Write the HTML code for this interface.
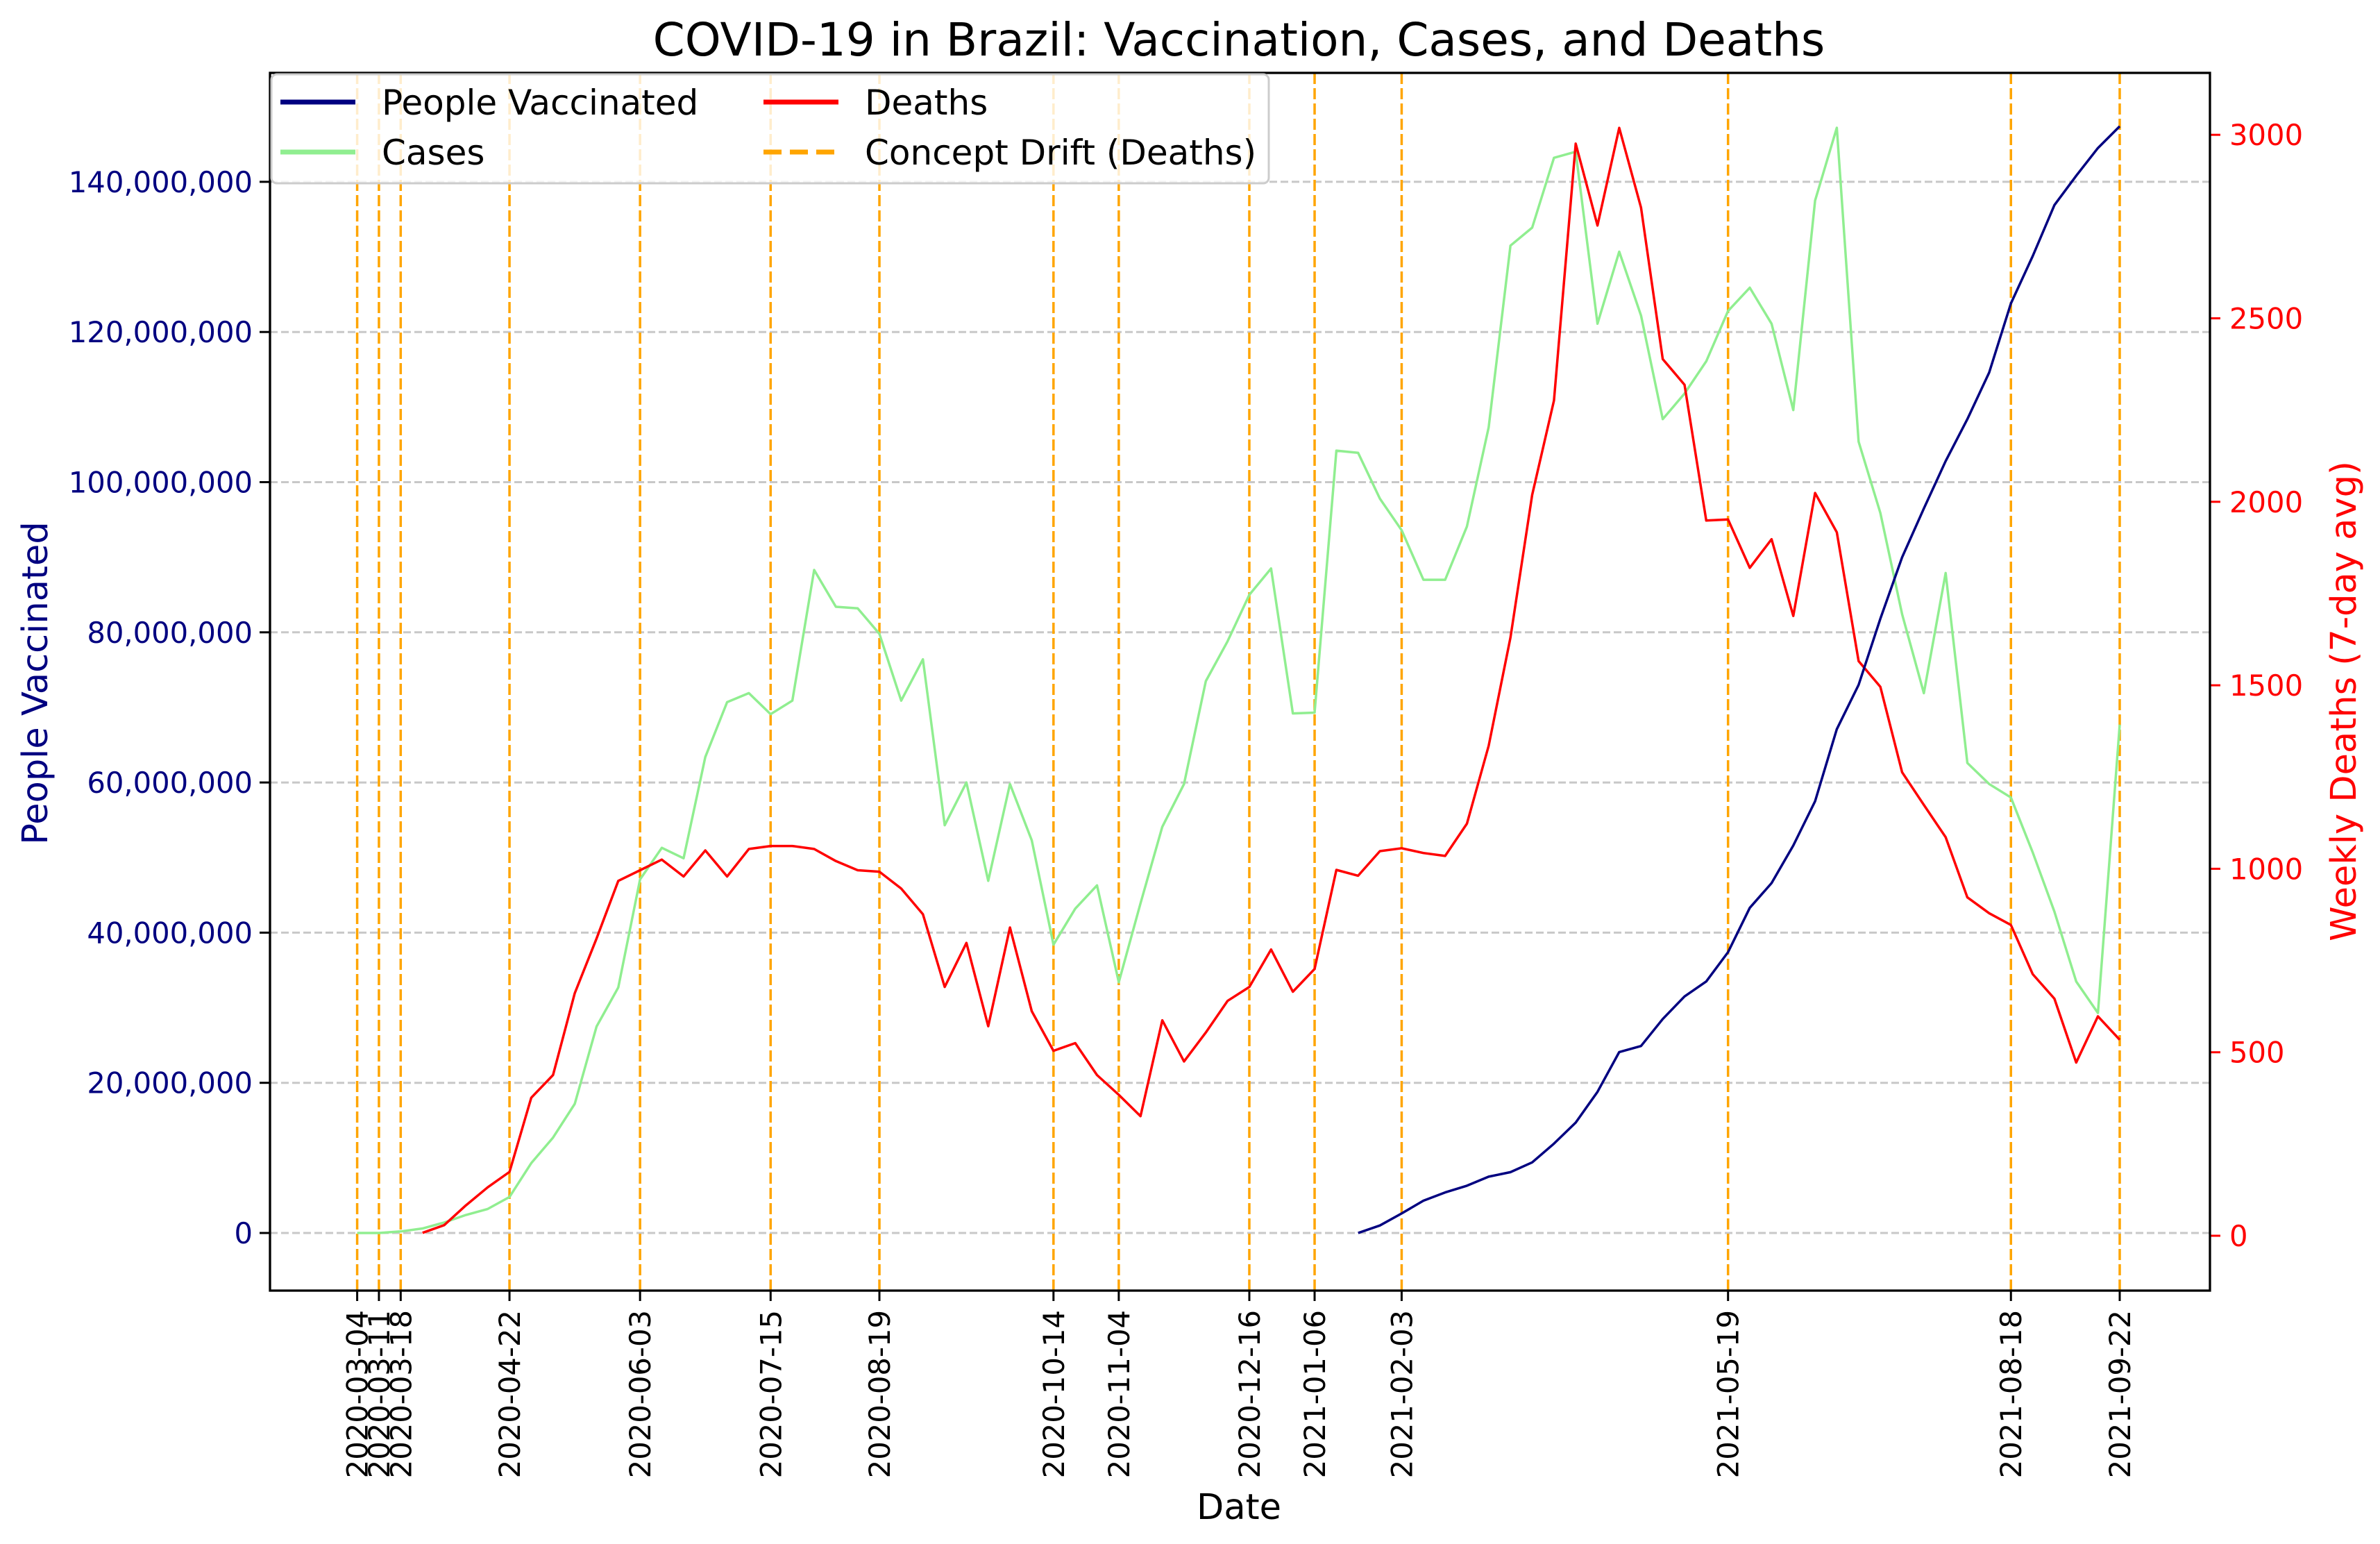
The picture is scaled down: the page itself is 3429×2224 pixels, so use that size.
<!DOCTYPE html>
<html><head><meta charset="utf-8"><style>
html,body{margin:0;padding:0;background:#fff;}
svg{display:block;font-family:"DejaVu Sans","Liberation Sans",sans-serif;}
</style></head><body>
<svg id="chart" width="3429" height="2224" viewBox="0 0 3429 2224" xmlns="http://www.w3.org/2000/svg">
<rect width="3429" height="2224" fill="#fff"/>
<text x="1785" y="80" font-size="66" text-anchor="middle">COVID-19 in Brazil: Vaccination, Cases, and Deaths</text>
<g id="grid"></g>
<g id="vlines"></g>
<g id="series"></g>
<g id="axes"></g>
<text x="1785" y="2188" font-size="51" text-anchor="middle">Date</text>
<text transform="translate(68,984) rotate(-90)" font-size="51" fill="#000080" text-anchor="middle">People Vaccinated</text>
<text transform="translate(3394,1010) rotate(-90)" font-size="51" fill="#ff0000" text-anchor="middle">Weekly Deaths (7-day avg)</text>
<g id="legend">
<rect x="391" y="107" width="1437" height="157" rx="8" fill="#fff" fill-opacity="0.8" stroke="#ccc" stroke-width="3"/>
<line x1="404" y1="147" x2="512" y2="147" stroke="#000080" stroke-width="7"/>
<text x="550" y="165" font-size="50">People Vaccinated</text>
<line x1="404" y1="219" x2="512" y2="219" stroke="#90ee90" stroke-width="7"/>
<text x="550" y="237" font-size="50">Cases</text>
<line x1="1100" y1="147" x2="1208" y2="147" stroke="#ff0000" stroke-width="7"/>
<text x="1246" y="165" font-size="50">Deaths</text>
<line x1="1100" y1="219" x2="1208" y2="219" stroke="#ffa500" stroke-width="7" stroke-dasharray="26,12"/>
<text x="1246" y="237" font-size="50">Concept Drift (Deaths)</text>
</g>
</svg>
<script>
const weekLabels = ["2020-03-04","2020-03-11","2020-03-18","2020-03-25","2020-04-01","2020-04-08","2020-04-15","2020-04-22","2020-04-29","2020-05-06","2020-05-13","2020-05-20","2020-05-27","2020-06-03","2020-06-10","2020-06-17","2020-06-24","2020-07-01","2020-07-08","2020-07-15","2020-07-22","2020-07-29","2020-08-05","2020-08-12","2020-08-19","2020-08-26","2020-09-02","2020-09-09","2020-09-16","2020-09-23","2020-09-30","2020-10-07","2020-10-14","2020-10-21","2020-10-28","2020-11-04","2020-11-11","2020-11-18","2020-11-25","2020-12-02","2020-12-09","2020-12-16","2020-12-23","2020-12-30","2021-01-06","2021-01-13","2021-01-20","2021-01-27","2021-02-03","2021-02-10","2021-02-17","2021-02-24","2021-03-03","2021-03-10","2021-03-17","2021-03-24","2021-03-31","2021-04-07","2021-04-14","2021-04-21","2021-04-28","2021-05-05","2021-05-12","2021-05-19","2021-05-26","2021-06-02","2021-06-09","2021-06-16","2021-06-23","2021-06-30","2021-07-07","2021-07-14","2021-07-21","2021-07-28","2021-08-04","2021-08-11","2021-08-18","2021-08-25","2021-09-01","2021-09-08","2021-09-15","2021-09-22"];
// millions
const casesM = [0,0,0.2,0.6,1.4,2.4,3.2,4.8,9.3,12.7,17.2,27.5,32.7,47.1,51.3,49.9,63.4,70.7,71.9,69.1,70.9,88.3,83.4,83.2,79.8,70.9,76.4,54.3,60.0,46.9,59.8,52.3,38.4,43.2,46.3,33.4,43.9,54.1,59.8,73.5,78.8,85.0,88.5,69.2,69.3,104.2,103.9,97.8,93.6,87.0,87.0,94.1,107.3,131.5,133.9,143.2,144.0,121.1,130.7,122.2,108.4,111.8,116.1,122.8,125.9,121.1,109.6,137.5,147.2,105.4,95.9,82.4,71.9,87.9,62.6,59.8,58.0,50.7,42.8,33.5,29.3,67.7];
const deaths = [null,null,null,8,29,83,132,174,376,438,661,810,967,996,1025,979,1050,979,1054,1062,1062,1054,1021,996,992,946,876,678,798,571,840,612,504,525,438,384,326,587,475,554,640,678,780,665,727,997,981,1048,1056,1043,1035,1123,1335,1630,2019,2276,2976,2753,3019,2802,2389,2319,1949,1952,1820,1898,1689,2024,1917,1566,1496,1263,1174,1086,922,879,847,713,646,472,598,534];
const vaccinatedM = [null,null,null,null,null,null,null,null,null,null,null,null,null,null,null,null,null,null,null,null,null,null,null,null,null,null,null,null,null,null,null,null,null,null,null,null,null,null,null,null,null,null,null,null,null,null,0,1.0,2.6,4.3,5.4,6.3,7.5,8.1,9.4,11.9,14.7,18.8,24.1,24.9,28.5,31.5,33.5,37.4,43.3,46.6,51.6,57.5,67.1,73.0,81.8,90.0,96.5,102.8,108.4,114.6,123.8,130.1,136.9,140.8,144.5,147.4];
const driftDates = ["2020-03-04","2020-03-11","2020-03-18","2020-04-22","2020-06-03","2020-07-15","2020-08-19","2020-10-14","2020-11-04","2020-12-16","2021-01-06","2021-02-03","2021-05-19","2021-08-18","2021-09-22"];
const leftTicks = [0,20,40,60,80,100,120,140];
const leftTickLabels = ["0","20,000,000","40,000,000","60,000,000","80,000,000","100,000,000","120,000,000","140,000,000"];
const rightTicks = [0,500,1000,1500,2000,2500,3000];

const NS="http://www.w3.org/2000/svg";
const PL=389, PR=3184, PT=105, PB=1859;
const nW = weekLabels.length-1;
const X0=514.6, X1=3054;
function xScale(i){return X0+(X1-X0)*i/nW;}
function yLeft(m){return 1776 - m*10.815;}
function yRight(d){return 1780 - d*0.5286;}
function mk(tag,attrs,parent){const e=document.createElementNS(NS,tag);for(const k in attrs)e.setAttribute(k,attrs[k]);parent.appendChild(e);return e;}
const grid=document.getElementById('grid'), vl=document.getElementById('vlines'), ser=document.getElementById('series'), ax=document.getElementById('axes');

leftTicks.forEach((t,k)=>{
  const y=yLeft(t);
  const g=mk('line',{x1:PL,x2:PR,y1:y,y2:y,stroke:'#b0b0b0','stroke-opacity':'0.7','stroke-width':3,'stroke-dasharray':'11,5'},grid);
  
  
  const tk=mk('line',{x1:PL-15,x2:PL,y1:y,y2:y,stroke:'#000','stroke-width':3},ax);
  
  
  const tx=mk('text',{x:PL-25,y:y+15,'font-size':41.7,fill:'#000080','text-anchor':'end'},ax);
  tx.textContent=leftTickLabels[k];
  
  
});
rightTicks.forEach(t=>{
  const y=yRight(t);
  const tk=mk('line',{x1:PR,x2:PR+15,y1:y,y2:y,stroke:'#ff0000','stroke-width':3},ax);
  
  
  const tx=mk('text',{x:PR+28,y:y+15,'font-size':41.7,fill:'#ff0000'},ax);
  tx.textContent=String(t);
  
  
});
driftDates.forEach(d=>{
  const i=weekLabels.indexOf(d); const x=xScale(i);
  const l=mk('line',{x1:x,x2:x,y1:PT,y2:PB,stroke:'#ffa500','stroke-width':3.5,'stroke-dasharray':'16,6'},vl);
  
  
  const tk=mk('line',{x1:x,x2:x,y1:PB,y2:PB+15,stroke:'#000','stroke-width':3},ax);
  
  
  const tx=mk('text',{transform:'translate('+(x+15)+','+(PB+28)+') rotate(-90)','font-size':41.7,'text-anchor':'end'},ax);
  tx.textContent=d;
  
  
});
function path(arr,yf){let s='';arr.forEach((v,i)=>{if(v==null)return;s+=(s?'L':'M')+xScale(i).toFixed(1)+','+yf(v).toFixed(1);});return s;}
const pc=mk('path',{d:path(casesM,yLeft),fill:'none',stroke:'#90ee90','stroke-width':3.5,'stroke-linejoin':'round'},ser);


const pd=mk('path',{d:path(deaths,yRight),fill:'none',stroke:'#ff0000','stroke-width':3.5,'stroke-linejoin':'round'},ser);


const pv=mk('path',{d:path(vaccinatedM,yLeft),fill:'none',stroke:'#000080','stroke-width':3.5,'stroke-linejoin':'round'},ser);


const fr=mk('rect',{x:PL,y:PT,width:PR-PL,height:PB-PT,fill:'none',stroke:'#000','stroke-width':3.3},ax);


</script>
</body></html>
